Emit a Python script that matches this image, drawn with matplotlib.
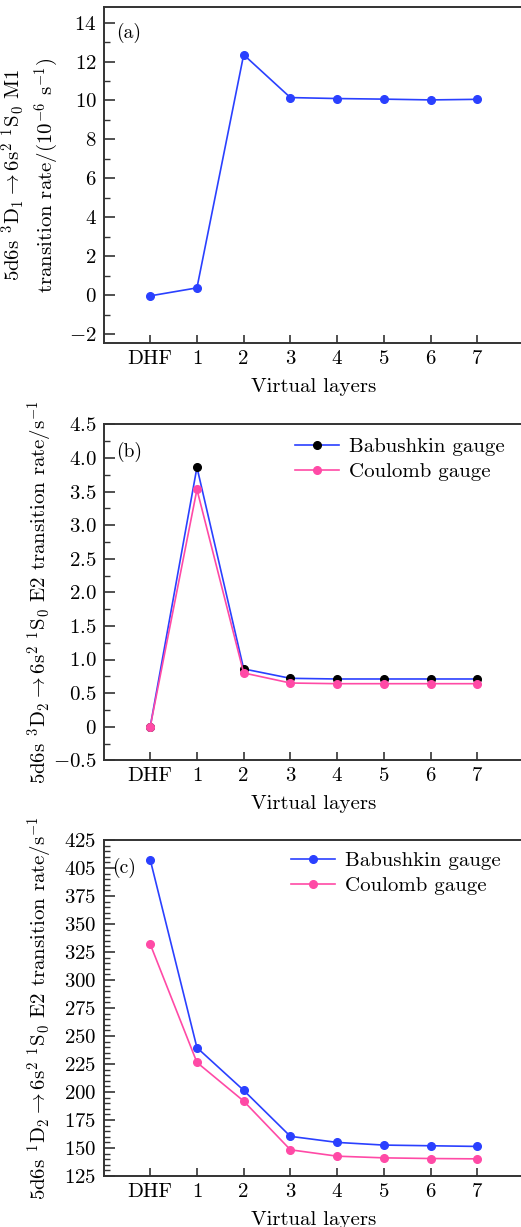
import matplotlib
matplotlib.use('Agg')
import matplotlib.pyplot as plt
import numpy as np

# data
layers = ['DHF', '1', '2', '3', '4', '5', '6', '7']

m1_rate = [-0.03, 0.38, 12.35, 10.15, 10.10, 10.07, 10.03, 10.06]

e2_3d2_babushkin = [0.0, 3.86, 0.86, 0.72, 0.71, 0.71, 0.71, 0.71]
e2_3d2_coulomb = [0.0, 3.53, 0.80, 0.65, 0.64, 0.64, 0.64, 0.64]

e2_1d2_babushkin = [407.4, 239.6, 201.5, 160.4, 155.0, 152.6, 152.0, 151.4]
e2_1d2_coulomb = [332.0, 226.4, 191.9, 148.4, 142.7, 141.2, 140.6, 140.3]

a_yticks = [-2, 0, 2, 4, 6, 8, 10, 12, 14]
a_ylabels = ['-2', '0', '2', '4', '6', '8', '10', '12', '14']
b_yticks = [-0.5, 0, 0.5, 1.0, 1.5, 2.0, 2.5, 3.0, 3.5, 4.0, 4.5]
b_ylabels = ['-0.5', '0', '0.5', '1.0', '1.5', '2.0', '2.5', '3.0', '3.5', '4.0', '4.5']
c_yticks = [125, 150, 175, 200, 225, 250, 275, 300, 325, 350, 375, 400, 425]
c_ylabels = ['125', '150', '175', '200', '225', '250', '275', '300', '325', '350', '375', '405', '425']

plt.rcParams['font.family'] = 'serif'
plt.rcParams['font.serif'] = ['cmr10']
plt.rcParams['mathtext.fontset'] = 'cm'
plt.rcParams['axes.formatter.use_mathtext'] = True
plt.rcParams['font.size'] = 15

BLUE = '#2a40ff'
PINK = '#ff4aa6'
SPINE = '#333333'

W, H = 521, 1227
fig = plt.figure(figsize=(W / 100, H / 100), dpi=100)

left = 103.5 / W
width = (524 - 103.5) / W
height = 336 / H
bottoms = [1 - 343 / H, 1 - 760.3 / H, 1 - 1176 / H]
axes = [fig.add_axes([left, b, width, height]) for b in bottoms]

x = np.arange(len(layers))


def style(ax, yticks, ylabels, ylim, minor_step):
    ax.set_xlim(-1, 8)
    ax.set_ylim(*ylim)
    ax.set_xticks(x)
    ax.set_xticklabels(layers)
    ax.set_yticks(yticks)
    ax.set_yticklabels(['$%s$' % s for s in ylabels])
    ax.yaxis.set_minor_locator(matplotlib.ticker.MultipleLocator(minor_step))
    ax.tick_params(axis='both', which='both', direction='in', color=SPINE,
                   top=False, right=False)
    ax.tick_params(axis='y', which='major', length=8, width=1.2, pad=5)
    ax.tick_params(axis='y', which='minor', length=4, width=1.0)
    ax.tick_params(axis='x', which='major', length=6, width=1.2, pad=5)
    for sp in ax.spines.values():
        sp.set_color(SPINE)
        sp.set_linewidth(1.4)
    ax.set_xlabel('Virtual layers', labelpad=7)


# (a) M1
ax = axes[0]
ax.plot(x, m1_rate, '-o', color=BLUE, lw=1.2, ms=5.5, mfc=BLUE, mec=BLUE)
style(ax, a_yticks, a_ylabels, (-2.45, 14.8), 1)
ax.set_ylabel('5d6s $^3\\mathrm{D}_1\\rightarrow 6\\mathrm{s}^2\\ ^1\\mathrm{S}_0$ M1\n'
              'transition rate/(10$^{-6}$ s$^{-1}$)', linespacing=1.3)
ax.yaxis.set_label_coords(-0.10, 0.5)
ax.text(0.03, 0.923, '(a)', transform=ax.transAxes, fontsize=14, va='center')

# (b) E2 3D2
ax = axes[1]
ax.plot(x, e2_3d2_babushkin, '-o', color=BLUE, lw=1.2, ms=5.5, mfc='black', mec='black',
        label='Babushkin gauge')
ax.plot(x, e2_3d2_coulomb, '-o', color=PINK, lw=1.2, ms=5.5, mfc=PINK, mec=PINK,
        label='Coulomb gauge')
style(ax, b_yticks, b_ylabels, (-0.5, 4.5), 0.25)
ax.set_ylabel('5d6s $^3\\mathrm{D}_2\\rightarrow 6\\mathrm{s}^2\\ ^1\\mathrm{S}_0$ E2 transition rate/s$^{-1}$')
ax.yaxis.set_label_coords(-0.115, 0.5)
ax.text(0.03, 0.918, '(b)', transform=ax.transAxes, fontsize=14, va='center')
ax.legend(loc='upper right', bbox_to_anchor=(0.975, 0.985), frameon=False, borderaxespad=0,
          handlelength=2.1, handletextpad=0.5, labelspacing=0.3, fontsize=15)

# (c) E2 1D2
ax = axes[2]
ax.plot(x, e2_1d2_babushkin, '-o', color=BLUE, lw=1.2, ms=5.5, mfc=BLUE, mec=BLUE,
        label='Babushkin gauge')
ax.plot(x, e2_1d2_coulomb, '-o', color=PINK, lw=1.2, ms=5.5, mfc=PINK, mec=PINK,
        label='Coulomb gauge')
style(ax, c_yticks, c_ylabels, (125, 425), 5)
ax.set_ylabel('5d6s $^1\\mathrm{D}_2\\rightarrow 6\\mathrm{s}^2\\ ^1\\mathrm{S}_0$ E2 transition rate/s$^{-1}$')
ax.yaxis.set_label_coords(-0.115, 0.5)
ax.text(0.02, 0.916, '(c)', transform=ax.transAxes, fontsize=14, va='center')
ax.legend(loc='upper right', bbox_to_anchor=(0.965, 0.99), frameon=False, borderaxespad=0,
          handlelength=2.1, handletextpad=0.5, labelspacing=0.3, fontsize=15)

fig.savefig('out.png', dpi=100)
